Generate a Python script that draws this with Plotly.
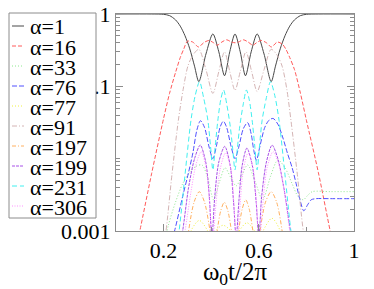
import plotly.graph_objects as go

# ---- data ----
t_a1 = [0, 0.15, 0.2, 0.225, 0.25, 0.27, 0.29, 0.31, 0.33, 0.348, 0.378, 0.407, 0.432, 0.456, 0.478, 0.5,
        0.522, 0.544, 0.568, 0.593, 0.622, 0.652, 0.67, 0.69, 0.71, 0.73, 0.75, 0.775, 0.8, 0.85, 1.0]
p_a1 = [1, 1, 0.99, 0.95, 0.83, 0.68, 0.5, 0.33, 0.19, 0.116, 0.28, 0.53, 0.3, 0.14, 0.3, 0.53,
        0.3, 0.14, 0.3, 0.53, 0.28, 0.116, 0.19, 0.33, 0.5, 0.68, 0.83, 0.95, 0.99, 1, 1]

t_a16 = [0.08, 0.1, 0.15, 0.2, 0.225, 0.25, 0.27, 0.285, 0.3, 0.322, 0.347, 0.368, 0.39, 0.41, 0.425, 0.445,
         0.465, 0.485, 0.5, 0.515, 0.535, 0.555, 0.575, 0.59, 0.61, 0.632, 0.653, 0.678, 0.7, 0.715, 0.73,
         0.75, 0.775, 0.8, 0.85, 0.9, 0.92]
p_a16 = [0.0005, 0.001, 0.0063, 0.036, 0.08, 0.155, 0.25, 0.33, 0.42, 0.41, 0.35, 0.4, 0.43, 0.4, 0.37, 0.41,
         0.44, 0.41, 0.4, 0.41, 0.44, 0.41, 0.37, 0.4, 0.43, 0.4, 0.35, 0.41, 0.38, 0.32, 0.25,
         0.17, 0.08, 0.034, 0.0065, 0.001, 0.0005]

t_a33 = [0.18, 0.22, 0.25, 0.28, 0.31, 0.335, 0.361, 0.385, 0.41, 0.435, 0.458, 0.482, 0.505, 0.53, 0.553,
         0.585, 0.616, 0.65, 0.68, 0.71, 0.74, 0.765, 0.787, 0.805, 0.825, 0.9, 1.0]
p_a33 = [0.0003, 0.0012, 0.0025, 0.0045, 0.0065, 0.0078, 0.0082, 0.0055, 0.0027, 0.0048, 0.0075, 0.0055,
         0.0042, 0.006, 0.0082, 0.0048, 0.0027, 0.0058, 0.0096, 0.0075, 0.0045, 0.003, 0.0027, 0.0031,
         0.0035, 0.0035, 0.0035]

t_a76 = [0.22, 0.246, 0.28, 0.305, 0.323, 0.34, 0.355, 0.372, 0.39, 0.407, 0.422, 0.437, 0.451, 0.465, 0.483,
         0.5, 0.517, 0.535, 0.553, 0.568, 0.579, 0.59, 0.605, 0.625, 0.643, 0.66, 0.68, 0.7, 0.72, 0.74,
         0.757, 0.773, 0.789, 0.805, 0.82, 0.84, 0.9, 1.0]
p_a76 = [0.0005, 0.001, 0.003, 0.0065, 0.012, 0.025, 0.0335, 0.027, 0.015, 0.01, 0.015, 0.027, 0.033, 0.027,
         0.015, 0.01, 0.015, 0.026, 0.0315, 0.022, 0.013, 0.0095, 0.015, 0.027, 0.034, 0.036, 0.03, 0.02,
         0.012, 0.0075, 0.0045, 0.0027, 0.0019, 0.0023, 0.0027, 0.0028, 0.0028, 0.0028]

t_a77 = [0.28, 0.315, 0.35, 0.385, 0.4, 0.418, 0.45, 0.482, 0.5, 0.518, 0.55, 0.582, 0.6, 0.618, 0.655,
         0.69, 0.72]
p_a77 = [0.0002, 0.001, 0.0014, 0.001, 0.0006, 0.001, 0.0012, 0.001, 0.0006, 0.001, 0.0013, 0.001, 0.0006,
         0.001, 0.0015, 0.001, 0.0002]

t_a91 = [0.19, 0.21, 0.235, 0.262, 0.282, 0.302, 0.323, 0.348, 0.378, 0.407, 0.432, 0.456, 0.478, 0.5,
         0.522, 0.546, 0.57, 0.593, 0.622, 0.652, 0.677, 0.698, 0.718, 0.735, 0.762, 0.787, 0.81]
p_a91 = [0.0004, 0.001, 0.006, 0.034, 0.09, 0.19, 0.27, 0.325, 0.17, 0.08, 0.16, 0.3, 0.16, 0.088,
         0.16, 0.3, 0.16, 0.085, 0.17, 0.325, 0.27, 0.19, 0.09, 0.034, 0.006, 0.001, 0.0004]

t_a197 = [0.28, 0.305, 0.328, 0.35, 0.372, 0.395, 0.41, 0.425, 0.44, 0.455, 0.47, 0.485, 0.5, 0.515, 0.53,
          0.545, 0.56, 0.575, 0.59, 0.605, 0.628, 0.652, 0.675, 0.698, 0.72]
p_a197 = [0.0002, 0.001, 0.0025, 0.0035, 0.0025, 0.001, 0.0004, 0.001, 0.0019, 0.0025, 0.0019, 0.001,
          0.0004, 0.001, 0.002, 0.0027, 0.002, 0.001, 0.0004, 0.001, 0.0025, 0.0035, 0.0025, 0.001, 0.0002]

t_a199 = [0.25, 0.28, 0.305, 0.33, 0.354, 0.377, 0.392, 0.403, 0.415, 0.432, 0.457, 0.48, 0.494, 0.505,
          0.516, 0.53, 0.55, 0.573, 0.589, 0.6, 0.612, 0.632, 0.656, 0.68, 0.705, 0.733, 0.76]
p_a199 = [0.0003, 0.001, 0.004, 0.01, 0.0154, 0.009, 0.003, 0.0008, 0.003, 0.009, 0.0148, 0.008, 0.0025,
          0.0008, 0.0025, 0.008, 0.014, 0.008, 0.0025, 0.0008, 0.003, 0.009, 0.0154, 0.01, 0.004, 0.001, 0.0003]

t_a231 = [0.24, 0.265, 0.29, 0.315, 0.333, 0.351, 0.368, 0.386, 0.397, 0.407, 0.417, 0.428, 0.44, 0.452,
          0.466, 0.48, 0.49, 0.5, 0.51, 0.52, 0.534, 0.548, 0.56, 0.572, 0.583, 0.593, 0.603, 0.614, 0.632,
          0.649, 0.667, 0.685, 0.71, 0.735, 0.76]
p_a231 = [0.0003, 0.001, 0.006, 0.034, 0.075, 0.116, 0.07, 0.034, 0.015, 0.007, 0.015, 0.034, 0.065, 0.089,
          0.055, 0.028, 0.014, 0.007, 0.014, 0.028, 0.055, 0.089, 0.065, 0.034, 0.015, 0.007, 0.015, 0.034,
          0.07, 0.116, 0.075, 0.034, 0.006, 0.001, 0.0003]

t_a306 = [0.26, 0.29, 0.315, 0.337, 0.358, 0.38, 0.395, 0.405, 0.418, 0.437, 0.46, 0.483, 0.497, 0.507, 0.52,
          0.535, 0.555, 0.577, 0.592, 0.602, 0.615, 0.635, 0.66, 0.683, 0.707, 0.73, 0.755]
p_a306 = [0.0003, 0.001, 0.0035, 0.0085, 0.0125, 0.007, 0.002, 0.0006, 0.002, 0.007, 0.012, 0.007, 0.002,
          0.0006, 0.002, 0.007, 0.012, 0.007, 0.002, 0.0006, 0.002, 0.0075, 0.0125, 0.0085, 0.0035, 0.001, 0.0003]

labels = ["α=1", "α=16", "α=33", "α=76", "α=77", "α=91", "α=197", "α=199", "α=231", "α=306"]
x_ticks = [0.2, 0.6, 1.0]
x_ticktext = ["0.2", "0.6", "1"]
y_ticks = [0.001, 0.1, 1]
y_ticktext = ["0.001", ".1", "1"]

series = [(t_a1, p_a1), (t_a16, p_a16), (t_a33, p_a33), (t_a76, p_a76), (t_a77, p_a77),
          (t_a91, p_a91), (t_a197, p_a197), (t_a199, p_a199), (t_a231, p_a231), (t_a306, p_a306)]

colors = ["#484848", "#ff5a5a", "#8ee88e", "#5050ff", "#f0f040", "#d4b4b4", "#ffb060", "#a850e8",
          "#40f0f0", "#ff90ff"]
dashes = ["solid", "4px,2px", "1px,2px", "5px,2px", "1px,2px", "5px,2px,1px,2px", "4px,2px,1px,2px",
          "3px,1px", "5px,3px", "1px,1.5px"]

SERIF = "Liberation Serif"
GRAY = "#8c8c8c"

# plot-area geometry (pixels) used to place the hand-drawn legend box
W, H = 374, 289
ML, MR, MT, MB = 116, 20, 14, 58
PW, PH = W - ML - MR, H - MT - MB
ROW = 20  # legend row pitch in px


def px_x(px):
    return (px - ML) / PW


def px_y(py):
    return (H - MB - py) / PH


fig = go.Figure()
for (tx, py), name, c, d in zip(series, labels, colors, dashes):
    fig.add_trace(go.Scatter(
        x=tx, y=py, mode="lines", name=name, showlegend=False,
        line=dict(color=c, width=1, dash=d, shape="spline", smoothing=0.8),
        hoverinfo="skip",
    ))

# legend: box, sample lines and labels
shapes = [dict(type="rect", xref="paper", yref="paper",
               x0=px_x(9), x1=px_x(96), y0=px_y(218), y1=px_y(13),
               line=dict(color=GRAY, width=1), fillcolor="white", layer="above")]
annotations = []
for i, (name, c, d) in enumerate(zip(labels, colors, dashes)):
    yc = 26 + ROW * i
    shapes.append(dict(type="line", xref="paper", yref="paper",
                       x0=px_x(12), x1=px_x(24), y0=px_y(yc), y1=px_y(yc),
                       line=dict(color=c, width=1, dash=d), layer="above"))
    annotations.append(dict(xref="paper", yref="paper", x=px_x(29), y=px_y(yc + 1),
                            xanchor="left", yanchor="middle", text=name, showarrow=False,
                            borderpad=0, font=dict(family=SERIF, size=22, color="black")))

minor_y = [k * 10 ** e for e in (-3, -2, -1) for k in range(1, 10) if not (k == 1 and e == -1)
           and not (k == 1 and e == -3)]

fig.update_layout(
    width=W, height=H,
    margin=dict(l=ML, r=MR, t=MT, b=MB, autoexpand=False),
    paper_bgcolor="white", plot_bgcolor="white",
    font=dict(family=SERIF, color="black", size=22),
    showlegend=False,
    shapes=shapes,
    annotations=annotations,
    xaxis=dict(
        range=[0, 1], tickmode="array", tickvals=x_ticks, ticktext=x_ticktext,
        ticks="inside", ticklen=7, tickcolor=GRAY, showgrid=False, zeroline=False,
        showline=True, linecolor=GRAY, linewidth=1, mirror=True,
        tickfont=dict(family=SERIF, size=22),
        minor=dict(dtick=0.2, tick0=0, ticks="inside", ticklen=4, tickcolor=GRAY, showgrid=False),
        title=dict(text="ω<sub>0</sub>t/2π", font=dict(family=SERIF, size=25), standoff=11),
    ),
    yaxis=dict(
        type="log", range=[-3, 0], tickmode="array", tickvals=y_ticks, ticktext=y_ticktext,
        ticks="inside", ticklen=7, tickcolor=GRAY, showgrid=False, zeroline=False,
        showline=True, linecolor=GRAY, linewidth=1, mirror="ticks",
        tickfont=dict(family=SERIF, size=22),
        minor=dict(tickmode="array", tickvals=minor_y, ticks="inside", ticklen=4,
                   tickcolor=GRAY, showgrid=False),
    ),
)

fig.write_html("out.html", config={"displayModeBar": False},
               post_script="document.body.style.margin='0';")
